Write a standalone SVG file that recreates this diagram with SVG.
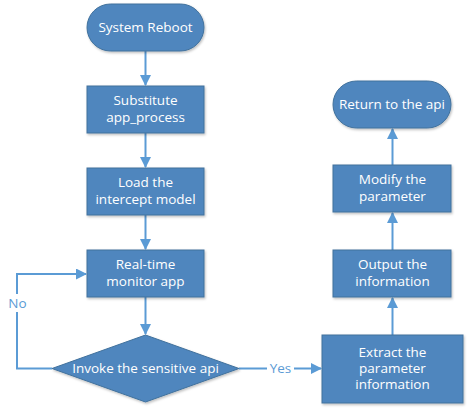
<svg xmlns="http://www.w3.org/2000/svg" width="470" height="413" viewBox="0 0 470 413">
<defs>
<marker id="ah" markerWidth="11" markerHeight="11" refX="10" refY="5.5" orient="auto" markerUnits="userSpaceOnUse">
<path d="M0,0 L11,5.5 L0,11 Z" fill="#5B9BD5"/>
</marker>
<filter id="sh" x="-10%" y="-10%" width="130%" height="130%">
<feDropShadow dx="1" dy="1.5" stdDeviation="1" flood-color="#000" flood-opacity="0.25"/>
</filter>
</defs>
<style>
.n{fill:#4F86BE;stroke:#41719C;stroke-width:1;filter:url(#sh)}
.t{font-family:"Segoe UI","Open Sans","Noto Sans",sans-serif;font-size:13.5px;fill:#fff;text-anchor:middle}
.c{fill:none;stroke:#5B9BD5;stroke-width:2}
.l{font-family:"Segoe UI","Open Sans","Noto Sans",sans-serif;font-size:13.5px;fill:#5B9BD5;text-anchor:middle}
</style>
<rect width="470" height="413" fill="#fff"/>
<g id="connectors">
<path class="c" d="M145.5,51 V85" marker-end="url(#ah)"/>
<path class="c" d="M145.5,133 V167" marker-end="url(#ah)"/>
<path class="c" d="M145.5,215 V249" marker-end="url(#ah)"/>
<path class="c" d="M145.5,297 V334" marker-end="url(#ah)"/>
<path class="c" d="M52,368.5 H17 V274 H86" marker-end="url(#ah)"/>
<path class="c" d="M239,368.5 H321" marker-end="url(#ah)"/>
<path class="c" d="M392.5,335 V298" marker-end="url(#ah)"/>
<path class="c" d="M392.5,250 V213" marker-end="url(#ah)"/>
<path class="c" d="M392.5,165 V129" marker-end="url(#ah)"/>
<rect x="7" y="294" width="21" height="18" fill="#fff"/>
<text class="l" x="17.5" y="308">No</text>
<rect x="267" y="360" width="27" height="17" fill="#fff"/>
<text class="l" x="280.5" y="373">Yes</text>
</g>
<g id="n1"><rect class="n" x="87" y="4" width="117" height="47" rx="23.5"/><text class="t" x="145.5" y="32">System Reboot</text></g>
<g id="n2"><rect class="n" x="87" y="86" width="117" height="47"/><text class="t" x="145.5" y="105">Substitute</text><text class="t" x="145.5" y="122">app_process</text></g>
<g id="n3"><rect class="n" x="87" y="168" width="117" height="47"/><text class="t" x="145.5" y="187">Load the</text><text class="t" x="145.5" y="204">intercept model</text></g>
<g id="n4"><rect class="n" x="87" y="250" width="117" height="47"/><text class="t" x="145.5" y="269">Real-time</text><text class="t" x="145.5" y="286">monitor app</text></g>
<g id="n5"><path class="n" d="M145.5,335 L239,368.5 L145.5,402 L52,368.5 Z"/><text class="t" x="145.5" y="373">Invoke the sensitive api</text></g>
<g id="n6"><rect class="n" x="322" y="335" width="141" height="68"/><text class="t" x="392.5" y="357">Extract the</text><text class="t" x="392.5" y="373">parameter</text><text class="t" x="392.5" y="389">information</text></g>
<g id="n7"><rect class="n" x="333" y="250" width="118" height="47"/><text class="t" x="392.5" y="269">Output the</text><text class="t" x="392.5" y="286">information</text></g>
<g id="n8"><rect class="n" x="333" y="165" width="118" height="47"/><text class="t" x="392.5" y="184">Modify the</text><text class="t" x="392.5" y="201">parameter</text></g>
<g id="n9"><rect class="n" x="333" y="81" width="118" height="47" rx="23.5"/><text class="t" x="392" y="109">Return to the api</text></g>
</svg>
